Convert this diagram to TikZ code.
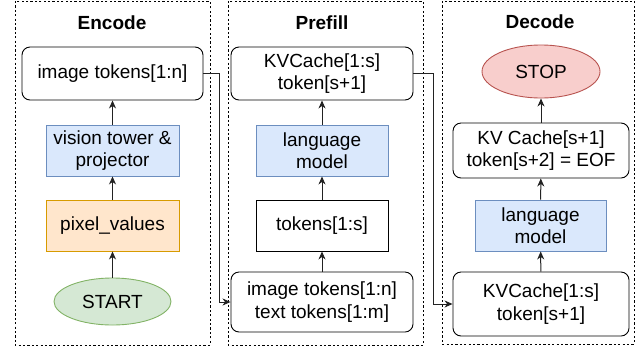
\documentclass[tikz,border=0pt]{standalone}
\usepackage{fontspec}
\setmainfont{Liberation Sans}
\usetikzlibrary{arrows.meta,shapes.geometric}
\definecolor{blueF}{HTML}{DAE8FC}\definecolor{blueD}{HTML}{6C8EBF}
\definecolor{orangeF}{HTML}{FFE6CC}\definecolor{orangeD}{HTML}{D79B00}
\definecolor{greenF}{HTML}{D5E8D4}\definecolor{greenD}{HTML}{82B366}
\definecolor{redF}{HTML}{F8CECC}\definecolor{redD}{HTML}{B85450}
\definecolor{lineC}{HTML}{222222}
\tikzset{
  txt/.style={font=\fontsize{19}{22.5}\selectfont, align=center, inner sep=0pt},
  phase/.style={draw, line width=0.8pt, dash pattern=on 2.2pt off 2.2pt},
  title/.style={txt, font=\fontsize{19}{22.5}\selectfont\bfseries},
  rbox/.style={txt, draw, line width=0.9pt, rounded corners=8pt, fill=white},
  sbox/.style={txt, draw, line width=0.9pt, fill=white},
  bluebox/.style={txt, draw=blueD, fill=blueF, line width=0.9pt},
  orangebox/.style={txt, draw=orangeD, fill=orangeF, line width=0.9pt},
  oval/.style={txt, ellipse, line width=0.9pt},
  flow/.style={draw=lineC, line width=1pt, -{Stealth[length=8pt,width=7pt,inset=2.5pt]}}
}
\newcommand{\boxat}[6]{% name, style, x1, y1, x2, y2
  \node[#2, minimum width={(#5-#3)*1pt}, minimum height={(#6-#4)*1pt}] (#1) at ({(#3+#5)/2},{(#4+#6)/2})}
\begin{document}
\begin{tikzpicture}[x=1pt,y=-1pt]
\useasboundingbox (0,0) rectangle (644,349);
% phase frames
\draw[phase] (15,1) rectangle (210,345);
\draw[phase] (228,1) rectangle (423,345);
\draw[phase] (442,1) rectangle (634,344);
\node[title] (tenc) at (112,23) {Encode};
\node[title] (tpre) at (322,23) {Prefill};
\node[title] (tdec) at (540,22) {Decode};
% Encode
\boxat{img}{rbox}{22}{47}{203}{100} {image tokens[1:n]};
\boxat{vis}{bluebox}{46}{125}{179}{176} {vision tower \&\\projector};
\boxat{pix}{orangebox}{46}{200}{179}{251} {pixel\_values};
\boxat{start}{oval, draw=greenD, fill=greenF}{54}{278}{171}{325} {START};
% Prefill
\boxat{kv1}{rbox}{231}{47}{413}{100} {KVCache[1:s]\\token[s+1]};
\boxat{lm1}{bluebox}{256}{125}{388}{176} {language\\model};
\boxat{tok}{sbox}{256}{200}{388}{251} {tokens[1:s]};
\boxat{inp}{rbox}{231}{272}{413}{332} {image tokens[1:n]\\text tokens[1:m]};
% Decode
\boxat{stop}{oval, draw=redD, fill=redF}{482}{45}{600}{98} {STOP};
\boxat{kv3}{rbox}{453}{123}{629}{178} {KV Cache[s+1]\\token[s+2] = EOF};
\boxat{lm2}{bluebox}{475}{200}{606}{251} {language\\model};
\boxat{kv2}{rbox}{453}{272}{629}{336} {KVCache[1:s]\\token[s+1]};
% vertical flow inside each phase
\draw[flow] (start) -- (pix);
\draw[flow] (pix) -- (vis);
\draw[flow] (vis) -- (img);
\draw[flow] (inp) -- (tok);
\draw[flow] (tok) -- (lm1);
\draw[flow] (lm1) -- (kv1);
\draw[flow] (kv2) -- (lm2);
\draw[flow] (lm2) -- (kv3);
\draw[flow] (kv3) -- (stop);
% hand-over between phases
\draw[flow] (img.east) -- ++(16,0) |- (inp.west);
\draw[flow] (kv1.east) -- ++(20,0) |- (kv2.west);
\end{tikzpicture}
\end{document}
